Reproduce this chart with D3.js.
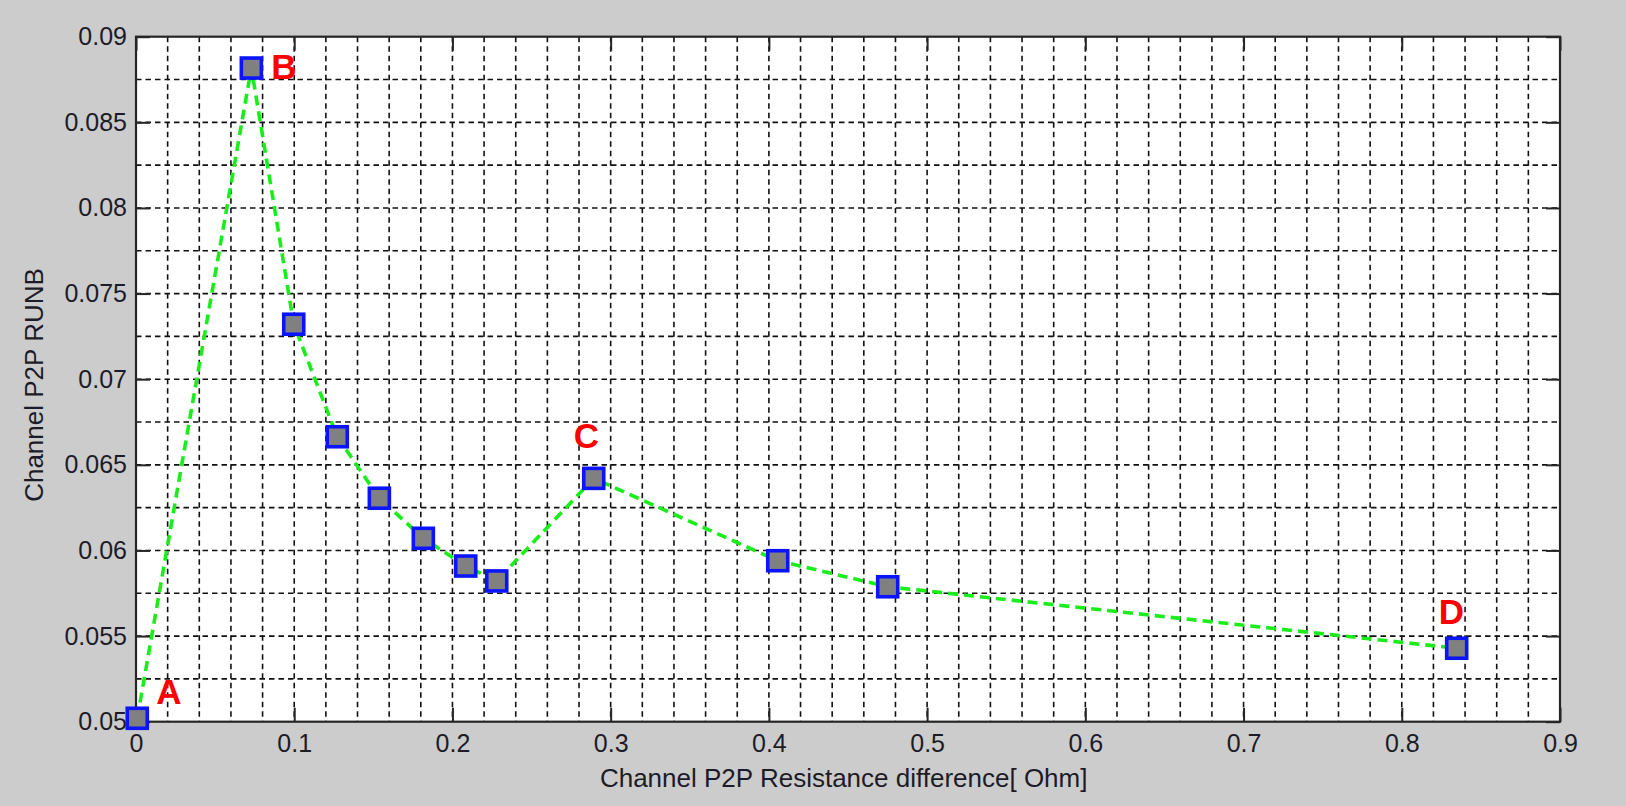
<!DOCTYPE html>
<html>
<head>
<meta charset="utf-8">
<script src="https://cdn.jsdelivr.net/npm/d3@7"></script>
<style>
html,body{margin:0;padding:0;background:#cccccc;}
svg{display:block;}
text{font-family:"Liberation Sans",Arial,sans-serif;}
</style>
</head>
<body>
<svg id="chart" width="1626" height="806"></svg>
<script>
// Data
const xValues = [0.0008, 0.0729, 0.0997, 0.1272, 0.1538, 0.1816, 0.2084, 0.2280, 0.2893, 0.4056, 0.4751, 0.8347];
const yValues = [0.0502, 0.08817, 0.07321, 0.06664, 0.06305, 0.06071, 0.05909, 0.05822, 0.06421, 0.0594, 0.05788, 0.05429];
const pointLabels = [
  {name: "A", index: 0},
  {name: "B", index: 1},
  {name: "C", index: 8},
  {name: "D", index: 11}
];
const xTicks = [0, 0.1, 0.2, 0.3, 0.4, 0.5, 0.6, 0.7, 0.8, 0.9];
const xTickLabels = ["0", "0.1", "0.2", "0.3", "0.4", "0.5", "0.6", "0.7", "0.8", "0.9"];
const yTicks = [0.05, 0.055, 0.06, 0.065, 0.07, 0.075, 0.08, 0.085, 0.09];
const yTickLabels = ["0.05", "0.055", "0.06", "0.065", "0.07", "0.075", "0.08", "0.085", "0.09"];
const xGrid = d3.range(0, 46).map(i => i * 0.02);
const yGrid = d3.range(0, 17).map(i => 0.05 + i * 0.0025);
const xLabel = "Channel P2P Resistance difference[ Ohm]";
const yLabel = "Channel P2P RUNB";

(function () {
const svg = d3.select("#chart");
const L = 136, R = 1560, T = 36.7, B = 721.7;
const x = d3.scaleLinear().domain([0, 0.9]).range([L, R]);
const y = d3.scaleLinear().domain([0.05, 0.09]).range([B, T]);

svg.append("rect").attr("x", L).attr("y", T).attr("width", R - L).attr("height", B - T).attr("fill", "#fff");

const grid = svg.append("g").attr("stroke", "#111").attr("stroke-width", 1.6).attr("stroke-dasharray", "5.5,4");
grid.selectAll("line.vx").data(xGrid.slice(1, -1)).join("line").attr("class", "vx")
  .attr("x1", d => x(d)).attr("x2", d => x(d)).attr("y1", T).attr("y2", B);
grid.selectAll("line.hy").data(yGrid.slice(1, -1)).join("line").attr("class", "hy")
  .attr("y1", d => y(d)).attr("y2", d => y(d)).attr("x1", L).attr("x2", R);

const tickLen = 14;
const axisColor = "#262626";
const gBottom = svg.append("g").attr("transform", `translate(0,${B})`)
  .call(d3.axisBottom(x).tickValues(xTicks).tickFormat((d, i) => xTickLabels[i]).tickSizeInner(-tickLen).tickSizeOuter(0).tickPadding(13));
const gTop = svg.append("g").attr("transform", `translate(0,${T})`)
  .call(d3.axisTop(x).tickValues(xTicks).tickFormat("").tickSizeInner(-tickLen).tickSizeOuter(0));
const gLeft = svg.append("g").attr("transform", `translate(${L},0)`)
  .call(d3.axisLeft(y).tickValues(yTicks).tickFormat((d, i) => yTickLabels[i]).tickSizeInner(-tickLen).tickSizeOuter(0).tickPadding(9));
const gRight = svg.append("g").attr("transform", `translate(${R},0)`)
  .call(d3.axisRight(y).tickValues(yTicks).tickFormat("").tickSizeInner(-tickLen).tickSizeOuter(0));
[gBottom, gTop, gLeft, gRight].forEach(g => {
  g.select(".domain").remove();
  g.selectAll(".tick line").attr("stroke", axisColor).attr("stroke-width", 2);
  g.selectAll(".tick text").attr("fill", "#1c1c28").attr("font-size", 25).attr("font-family", "Liberation Sans, Arial, sans-serif");
});
svg.append("rect").attr("x", L).attr("y", T).attr("width", R - L).attr("height", B - T)
  .attr("fill", "none").attr("stroke", axisColor).attr("stroke-width", 2.2);

svg.append("text").attr("x", 843.7).attr("y", 786.5).attr("text-anchor", "middle")
  .attr("font-size", 26).attr("fill", "#1c1c28").text(xLabel);
svg.append("text").attr("transform", `translate(43.3,385) rotate(-90)`).attr("text-anchor", "middle")
  .attr("font-size", 26).attr("fill", "#1c1c28").text(yLabel);

const pts = xValues.map((v, i) => [v, yValues[i]]);
svg.append("path").datum(pts)
  .attr("d", d3.line().x(d => x(d[0])).y(d => y(d[1])))
  .attr("fill", "none").attr("stroke", "#1aee1a").attr("stroke-width", 3.6).attr("stroke-dasharray", "10,6");

const ms = 20;
svg.selectAll("rect.mk").data(pts).join("rect").attr("class", "mk")
  .attr("x", d => x(d[0]) - ms / 2).attr("y", d => y(d[1]) - ms / 2)
  .attr("width", ms).attr("height", ms)
  .attr("fill", "#808080").attr("stroke", "#0a14ff").attr("stroke-width", 3.6);

const off = {A: [19, -14], B: [20, 11], C: [-20, -30], D: [-18, -24]};
svg.selectAll("text.pl").data(pointLabels).join("text").attr("class", "pl")
  .attr("x", d => x(xValues[d.index]) + off[d.name][0])
  .attr("y", d => y(yValues[d.index]) + off[d.name][1])
  .attr("font-size", 35).attr("font-weight", "bold").attr("fill", "#ff0000").text(d => d.name);
})();
</script>
</body>
</html>
